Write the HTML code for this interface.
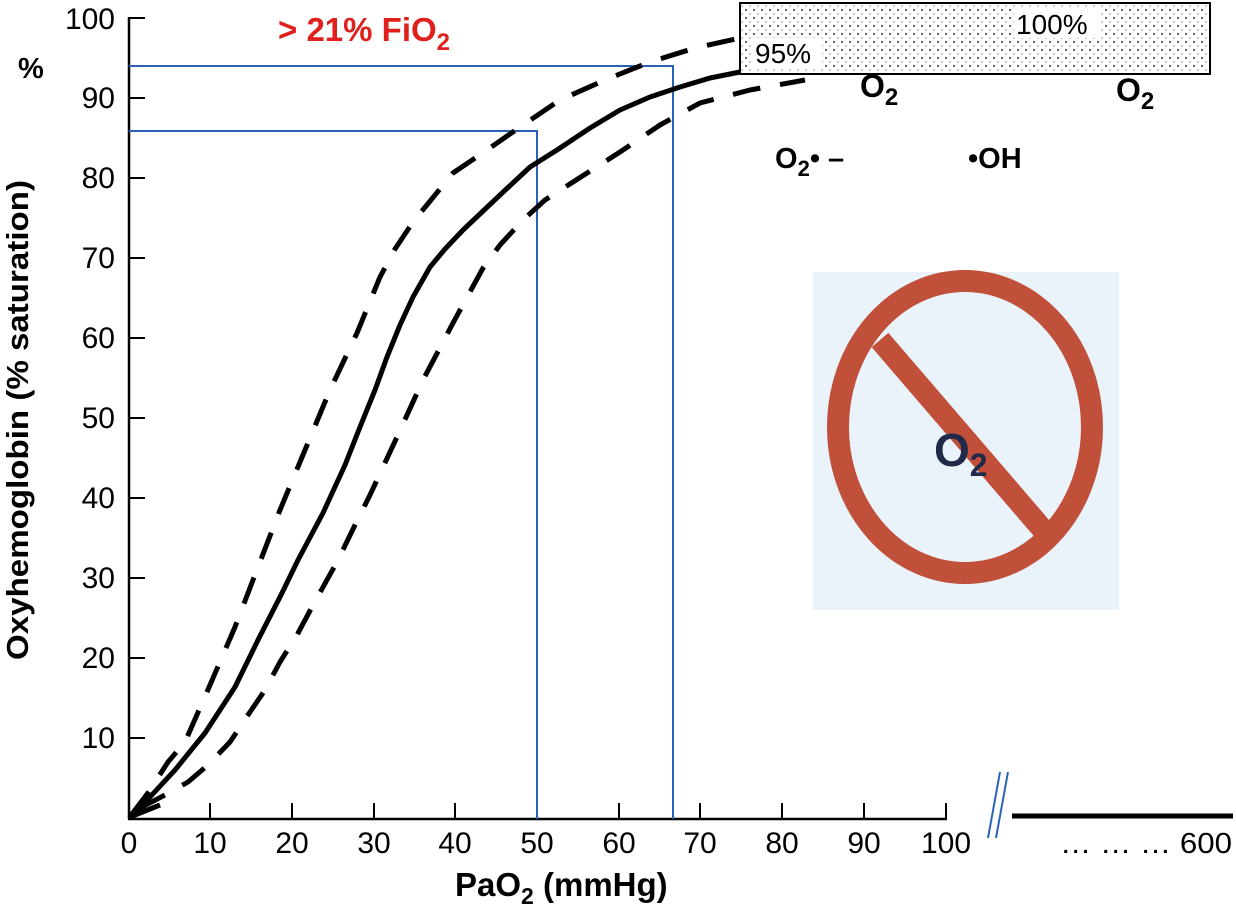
<!DOCTYPE html>
<html><head><meta charset="utf-8"><style>
body{margin:0;background:#fff}
svg text{font-family:"Liberation Sans",Arial,sans-serif}
</style></head><body>
<svg width="1236" height="912" viewBox="0 0 1236 912" xmlns="http://www.w3.org/2000/svg">
<defs>
<pattern id="dots" width="8" height="8" patternUnits="userSpaceOnUse">
<rect width="8" height="8" fill="#fff"/>
<circle cx="2" cy="2" r="1" fill="#333"/>
<circle cx="6" cy="6" r="0.8" fill="#888"/>
</pattern>
</defs>
<rect x="813" y="272" width="306" height="338" fill="#eaf2fa"/>
<ellipse cx="965" cy="427" rx="127" ry="146" fill="none" stroke="#c0503a" stroke-width="22"/>
<line x1="880" y1="340" x2="1050" y2="538" stroke="#c0503a" stroke-width="22"/>
<text x="934" y="466" font-size="46" font-weight="bold" fill="#222a4a">O<tspan font-size="32" dy="10">2</tspan></text>
<g stroke="#000" stroke-width="2.5" fill="none">
<line x1="129" y1="17" x2="129" y2="819"/>
<line x1="128" y1="819" x2="947" y2="819"/>
</g>
<g stroke="#000" stroke-width="2">
<line x1="129" y1="738" x2="145" y2="738"/><line x1="129" y1="658" x2="145" y2="658"/><line x1="129" y1="578" x2="145" y2="578"/><line x1="129" y1="498" x2="145" y2="498"/><line x1="129" y1="418" x2="145" y2="418"/><line x1="129" y1="338" x2="145" y2="338"/><line x1="129" y1="258" x2="145" y2="258"/><line x1="129" y1="178" x2="145" y2="178"/><line x1="129" y1="98" x2="145" y2="98"/><line x1="129" y1="18" x2="145" y2="18"/>
<line x1="210" y1="819" x2="210" y2="803"/><line x1="292" y1="819" x2="292" y2="803"/><line x1="374" y1="819" x2="374" y2="803"/><line x1="455" y1="819" x2="455" y2="803"/><line x1="537" y1="819" x2="537" y2="803"/><line x1="619" y1="819" x2="619" y2="803"/><line x1="700" y1="819" x2="700" y2="803"/><line x1="782" y1="819" x2="782" y2="803"/><line x1="864" y1="819" x2="864" y2="803"/><line x1="946" y1="819" x2="946" y2="803"/>
</g>
<g font-size="30" fill="#000" text-anchor="end">
<text x="115" y="748">10</text><text x="115" y="668">20</text><text x="115" y="588">30</text><text x="115" y="508">40</text><text x="115" y="428">50</text><text x="115" y="348">60</text><text x="115" y="268">70</text><text x="115" y="188">80</text><text x="115" y="108">90</text><text x="115" y="29">100</text>
</g>
<g font-size="30" fill="#000" text-anchor="middle">
<text x="129" y="853">0</text><text x="210" y="853">10</text><text x="292" y="853">20</text><text x="374" y="853">30</text><text x="455" y="853">40</text><text x="537" y="853">50</text><text x="619" y="853">60</text><text x="700" y="853">70</text><text x="782" y="853">80</text><text x="864" y="853">90</text><text x="946" y="853">100</text>
</g>
<text x="1060" y="853" font-size="29" textLength="172" lengthAdjust="spacingAndGlyphs">… … …  600</text>
<text x="18" y="78" font-size="29" font-weight="bold">%</text>
<text transform="translate(28,660) rotate(-90)" font-size="31" font-weight="bold" textLength="480" lengthAdjust="spacingAndGlyphs">Oxyhemoglobin (% saturation)</text>
<text x="455" y="896" font-size="33" font-weight="bold">PaO<tspan font-size="23" dy="8">2</tspan><tspan dy="-8"> (mmHg)</tspan></text>
<text x="278" y="41" font-size="33" font-weight="bold" fill="#e0201c">&gt; 21% FiO<tspan font-size="24" dy="9">2</tspan></text>
<line x1="1000" y1="772" x2="988" y2="838" stroke="#2a62b8" stroke-width="2"/>
<line x1="1008" y1="772" x2="996" y2="838" stroke="#2a62b8" stroke-width="2"/>
<line x1="1012" y1="816" x2="1233" y2="816" stroke="#000" stroke-width="5"/>
<g stroke="#2a62b8" stroke-width="2" fill="none">
<polyline points="129,66 673,66 673,819"/>
<polyline points="129,131 537,131 537,819"/>
</g>
<rect x="740" y="3" width="470" height="71" fill="url(#dots)" stroke="#000" stroke-width="2"/>
<rect x="752" y="38" width="70" height="30" fill="#fff"/>
<rect x="1014" y="8" width="86" height="30" fill="#fff"/>
<text x="755" y="63" font-size="28">95%</text>
<text x="1016" y="34" font-size="28">100%</text>
<text x="860" y="97" font-size="32" font-weight="bold">O<tspan font-size="24" dy="8">2</tspan></text>
<text x="1116" y="101" font-size="32" font-weight="bold">O<tspan font-size="24" dy="8">2</tspan></text>
<text x="775" y="168" font-size="29" font-weight="bold">O<tspan font-size="22" dy="8">2</tspan><tspan dy="-8">• –</tspan></text>
<text x="968" y="168" font-size="29" font-weight="bold">•OH</text>
<g fill="none" stroke="#000" stroke-width="5" stroke-linejoin="round">
<polyline points="132,817 150,797 175,770 205,733 235,687 258,640 282,593 298,560 323,513 345,465 360,427 375,390 387,357 400,325 413,297 430,267 445,249 463,230 500,195 530,167 557,150 590,128 620,110 650,97 680,87 710,78 740,72"/>
<polyline stroke-dasharray="28,20" points="132,814 148,793 168,762 185,742 210,685 235,627 258,567 280,510 305,450 330,390 357,333 380,277 395,249 413,222 453,173 487,150 520,127 560,100 605,80 650,62 695,48 740,38"/>
<polyline stroke-dasharray="28,20" points="140,808 165,795 188,782 208,765 230,742 248,715 265,690 280,662 297,635 312,607 338,560 355,525 370,495 397,437 423,380 453,323 483,268 500,245 523,220 545,200 573,182 620,152 660,125 700,103 750,90 805,80"/>
</g>
<path d="M130,817 L148,793 M130,817 L160,805" stroke="#000" stroke-width="5" fill="none"/>
</svg>
</body></html>
